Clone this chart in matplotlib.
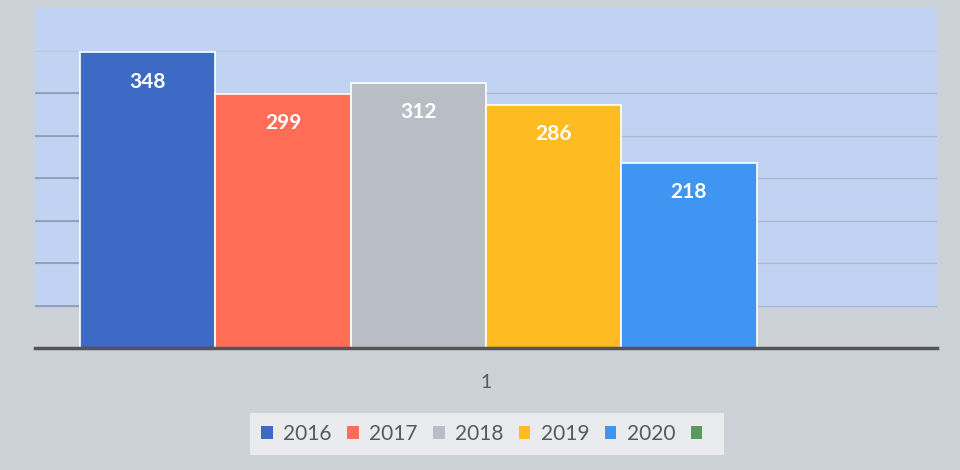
import numpy as np
import matplotlib
matplotlib.use("Agg")
import matplotlib.pyplot as plt
from matplotlib.patches import Patch

plt.rcParams['font.family'] = ['Lato', 'DejaVu Sans']

categories = ['1']
series = ['2016', '2017', '2018', '2019', '2020', '']
values = [348, 299, 312, 286, 218, np.nan]
colors = ['#3d6ac4', '#ff6d57', '#b9bec6', '#ffbb22', '#3f95f2', '#5a9a5e']

W, H = 960, 470
fig = plt.figure(figsize=(W / 100, H / 100), dpi=100)
fig.patch.set_facecolor('#cdd1d8')

ax = fig.add_axes([35 / W, (H - 348) / H, (937 - 35) / W, (348 - 8) / H])
ax.set_facecolor('none')
ax.set_ylim(0, 400)
n = len(series)
ax.set_xlim(-n / 2 - 0.333, n / 2 + 0.333)

ax.axhspan(50, 400, color='#c1d3f2', zorder=0, lw=0)
for g in range(50, 351, 50):
    ax.axhline(g, color='#a8bad8' if g < 350 else '#b8c9e6', lw=1.0, zorder=1)
    if g < 350:
        ax.axhline(g, xmin=0, xmax=0.05, color='#8a9bb9', lw=1.2, zorder=1)

offsets = np.arange(n) - (n - 1) / 2
for i, (s, v, c) in enumerate(zip(series, values, colors)):
    ax.bar(0 + offsets[i], v, width=1.0, color=c, edgecolor='white',
           linewidth=1.2, zorder=3, label=s)
    if not np.isnan(v):
        ax.annotate(f'{v:g}', xy=(offsets[i], v), xytext=(0, -14),
                    textcoords='offset points', ha='center', va='top',
                    color='white', fontsize=15, fontweight='bold', zorder=4)

ax.set_xticks([0])
ax.set_xticklabels(categories)
ax.tick_params(axis='x', length=0, pad=19, labelsize=14, labelcolor='#595959')
ax.set_yticks([])
for sp in ['top', 'left', 'right']:
    ax.spines[sp].set_visible(False)
ax.spines['bottom'].set_color('#555555')
ax.spines['bottom'].set_linewidth(2.5)
ax.spines['bottom'].set_zorder(5)

handles = [Patch(facecolor=c, edgecolor='none') for c in colors]
leg = fig.legend(handles, series, loc='center',
                 bbox_to_anchor=(487 / W, 1 - 434 / H), ncol=n,
                 frameon=True, facecolor='#f1f2f4', edgecolor='none',
                 fontsize=15, handlelength=0.55, handleheight=0.55,
                 handletextpad=0.5, columnspacing=0.75, labelcolor='#595959',
                 borderpad=0.55, fancybox=False)
leg.get_frame().set_alpha(0.8)

fig.savefig('out.png', dpi=100, facecolor=fig.get_facecolor())
